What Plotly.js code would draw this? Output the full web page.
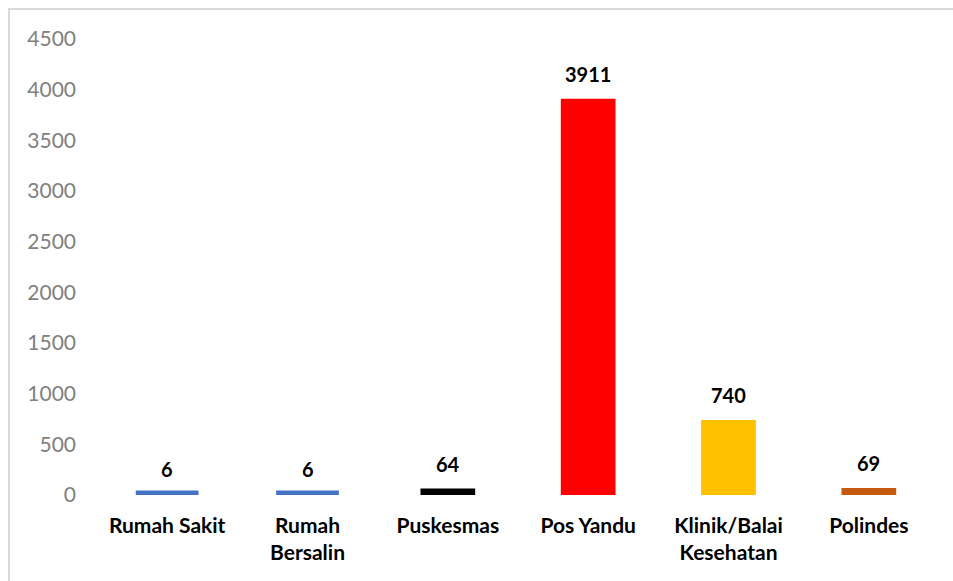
<!DOCTYPE html>
<html>
<head>
<meta charset="utf-8">
<script src="https://cdn.plot.ly/plotly-3.0.1.min.js"></script>
<style>
  html, body { margin: 0; padding: 0; background: #fff; }
  #frame { position: absolute; left: 8px; top: 8px; width: 960px; height: 600px;
           border-left: 2px solid #d9d9d9; border-top: 2px solid #d9d9d9; pointer-events: none; }
  #chart { position: absolute; left: 0; top: 0; width: 953px; height: 581px; }
</style>
</head>
<body>
<div id="chart"></div>
<div id="frame"></div>
<script>
const categories = ["Rumah Sakit", "Rumah<br>Bersalin", "Puskesmas", "Pos Yandu", "Klinik/Balai<br>Kesehatan", "Polindes"];
const values = [6, 6, 64, 3911, 740, 69];
const barColors = ["#4472C4", "#4472C4", "#000000", "#FF0000", "#FFC000", "#C55A11"];
const yTicks = [0, 500, 1000, 1500, 2000, 2500, 3000, 3500, 4000, 4500];

const FONT = "Lato, 'Open Sans', sans-serif";

const trace = {
  type: "bar",
  x: categories,
  y: values,
  marker: {
    color: barColors,
    line: { color: barColors, width: values.map(v => v < 20 ? 8 : 0) }
  },
  hoverinfo: "x+y",
  cliponaxis: true
};

const annotations = categories.map((c, i) => ({
  x: c, y: values[i], xref: "x", yref: "y",
  text: String(values[i]),
  showarrow: false,
  yanchor: "middle",
  yshift: 25,
  font: { family: FONT, size: 20, color: "#000000", weight: "bold" }
}));

const layout = {
  width: 953, height: 581,
  margin: { l: 97, r: 14, t: 39, b: 86 },
  paper_bgcolor: "#ffffff",
  plot_bgcolor: "#ffffff",
  showlegend: false,
  bargap: 0.61,
  font: { family: FONT },
  xaxis: {
    type: "category",
    showgrid: false, zeroline: false, showline: false, ticks: "",
    ticklabelstandoff: 16,
    tickfont: { family: FONT, size: 21, color: "#000000", weight: "bold" }
  },
  yaxis: {
    range: [0, 4500],
    tickvals: yTicks,
    ticktext: yTicks.map(String),
    showgrid: false, zeroline: false, showline: false, ticks: "",
    ticklabelstandoff: 20,
    tickfont: { family: FONT, size: 21, color: "#808080" }
  },
  annotations: annotations
};

Plotly.newPlot("chart", [trace], layout, { displayModeBar: false, staticPlot: true });
</script>
</body>
</html>
